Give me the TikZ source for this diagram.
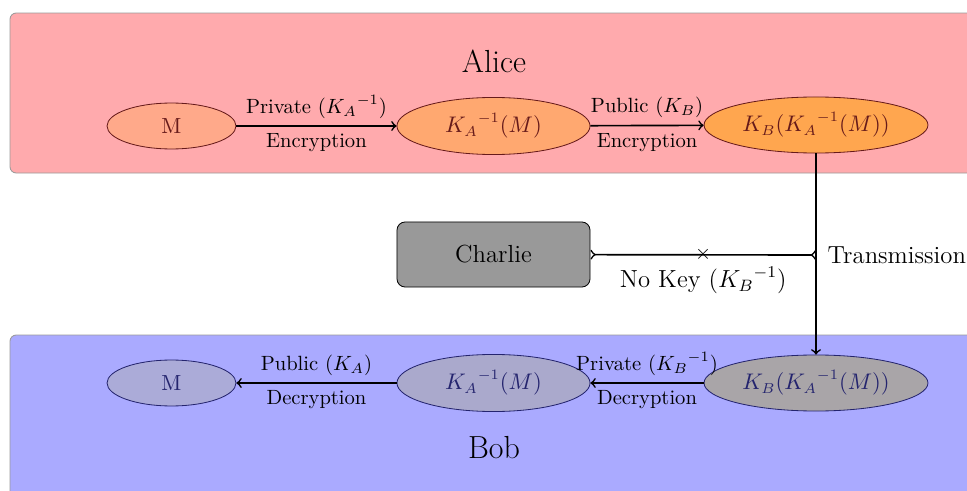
\documentclass[tikz,border=0pt]{standalone}
\usetikzlibrary{shapes.geometric,arrows}
\definecolor{alicebg}{HTML}{FFAAAD}
\definecolor{bobbg}{HTML}{AAAAFF}
\definecolor{panelrule}{HTML}{999999}
\definecolor{aliceink}{HTML}{661A1A}
\definecolor{bobink}{HTML}{24246E}
\definecolor{afillA}{HTML}{FFA98A}
\definecolor{afillB}{HTML}{FFA870}
\definecolor{afillC}{HTML}{FFA64F}
\definecolor{bfillA}{HTML}{ABABD8}
\definecolor{bfillB}{HTML}{AAA9CC}
\definecolor{bfillC}{HTML}{A9A5A8}
\definecolor{charliefill}{HTML}{999999}
\begin{document}
\begin{tikzpicture}[x=0.4854pt,y=-0.4854pt,
  panel/.style={draw=panelrule,line width=0.4pt,rounded corners=3pt},
  aliceel/.style={ellipse,draw=aliceink,text=aliceink,inner sep=0pt,font=\fontsize{10.6}{13}\selectfont},
  bobel/.style={ellipse,draw=bobink,text=bobink,inner sep=0pt,font=\fontsize{10.6}{13}\selectfont},
  small/.style={minimum width=62.6pt,minimum height=22.3pt},
  mid/.style={minimum width=93.7pt,minimum height=27.7pt},
  wide/.style={minimum width=108.7pt,minimum height=27.2pt},
  arr/.style={thick,->,>=to},
  lab/.style={font=\normalsize}]
\clip (0,0) rectangle (967,491);
% the two parties
\draw[panel,fill=alicebg] (10,13) rectangle (1010,173);
\draw[panel,fill=bobbg] (10,335) rectangle (1010,520);
\node[font=\fontsize{15.5}{18}\selectfont] (alice) at (494,61) {Alice};
\node[font=\fontsize{15.5}{18}\selectfont] (bob) at (494,448) {Bob};
% Alice's side
\node[aliceel,small,fill=afillA] (a1) at (171.5,126) {M};
\node[aliceel,mid,fill=afillB] (a2) at (493.5,126) {${K_A}^{-1}(M)$};
\node[aliceel,wide,fill=afillC] (a3) at (816,125) {$K_B({K_A}^{-1}(M))$};
% Bob's side
\node[bobel,small,fill=bfillA] (b1) at (171.5,383) {M};
\node[bobel,mid,fill=bfillB] (b2) at (493.5,383) {${K_A}^{-1}(M)$};
\node[bobel,wide,fill=bfillC] (b3) at (816,383) {$K_B({K_A}^{-1}(M))$};
% eavesdropper
\node[draw=black,fill=charliefill,rounded corners=4pt,minimum width=93.7pt,minimum height=31.6pt,
      font=\large] (charlie) at (493.5,254.5) {Charlie};
\coordinate (tap) at (816,255);
% encryption steps
\draw[arr] (a1) -- node[lab,above] {Private (${K_A}^{-1}$)} node[lab,below] {Encryption} (a2);
\draw[arr] (a2) -- node[lab,above] {Public ($K_B$)} node[lab,below] {Encryption} (a3);
% decryption steps
\draw[arr] (b3) -- node[lab,above] {Private (${K_B}^{-1}$)} node[lab,below] {Decryption} (b2);
\draw[arr] (b2) -- node[lab,above] {Public ($K_A$)} node[lab,below] {Decryption} (b1);
% transmission and interception
\draw[arr] (a3) -- (b3);
\node[anchor=west,font=\large,inner sep=1pt] (trans) at ([xshift=4.5pt]tap) {Transmission};
\draw[thick,>-<,>=to] (tap) -- node[pos=0.5,inner sep=0pt] (cross) {$\times$}
   node[below=2pt,font=\large] (nokey) {No Key (${K_B}^{-1}$)} (charlie);
\end{tikzpicture}
\end{document}
